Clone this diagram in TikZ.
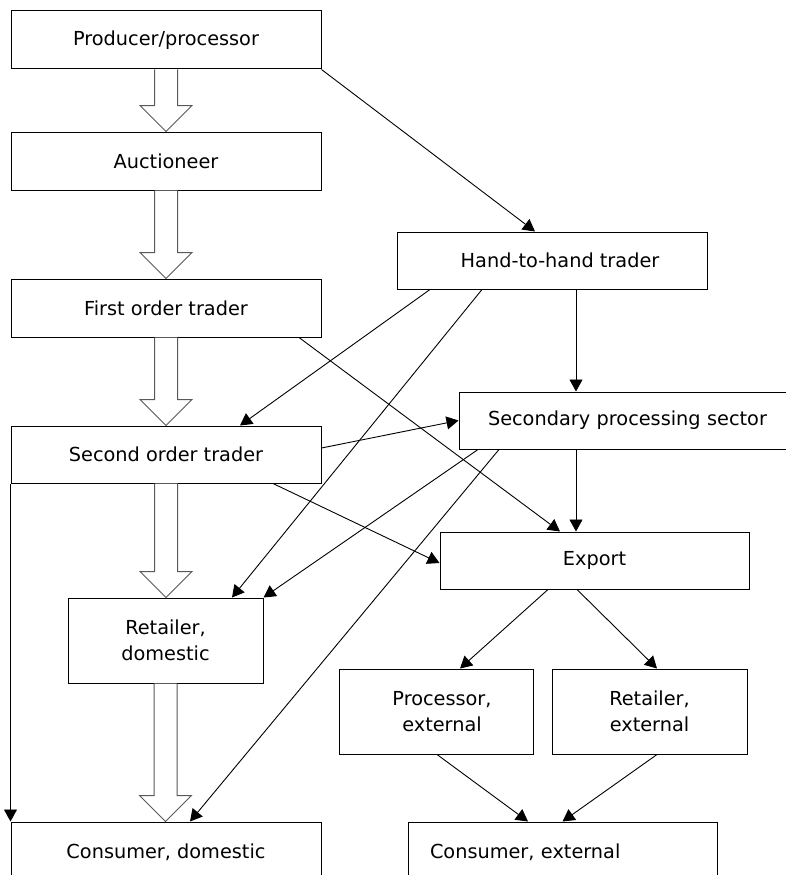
\documentclass[tikz,border=0pt]{standalone}
\usepackage{fontspec}
\setmainfont{DejaVu Sans}
\usetikzlibrary{arrows.meta,calc}
\newcommand\blockarr[2]{\draw[blk] let \p1=(#1.south), \p2=(#2.north) in
  (\x1-11.5pt,\y1) -- (\x1-11.5pt,\y2+26pt) -- (\x1-26pt,\y2+26pt) -- (\x1,\y2)
  -- (\x1+26pt,\y2+26pt) -- (\x1+11.5pt,\y2+26pt) -- (\x1+11.5pt,\y1);}
\begin{document}
\begin{tikzpicture}[x=1pt,y=-1pt,
  box/.style={draw=black, line width=1pt, fill=white, inner sep=0pt, align=center,
    font=\fontsize{19.3}{26}\selectfont},
  link/.style={draw=black, line width=0.9pt, -{Triangle[length=12pt,width=13pt]}},
  blk/.style={draw=black!65, line width=1pt, fill=white}]
\useasboundingbox (0,0) rectangle (786,875);
\clip (0,0) rectangle (786,875);
% boxes
\node[box, minimum width=310pt, minimum height=58pt] (prod) at (166,40) {Producer/processor};
\node[box, minimum width=310pt, minimum height=58pt] (auct) at (166,161) {Auctioneer};
\node[box, minimum width=310pt, minimum height=58pt] (first) at (166,308) {First order trader};
\node[box, minimum width=310pt, minimum height=57pt] (second) at (166,454.5) {Second order trader};
\node[box, minimum width=195pt, minimum height=85pt] (retd) at (165.5,640.5) {Retailer,\\domestic};
\node[box, minimum width=310pt, minimum height=60pt] (consd) at (166,852) {Consumer, domestic};
\node[box, minimum width=310pt, minimum height=57pt] (hand) at (552,260.5) {\hspace*{16pt}Hand-to-hand trader};
\node[box, minimum height=57pt, text width=282pt, inner xsep=29pt, align=left] (sec) at (629,420.5) {Secondary processing sector};
\node[box, minimum width=309pt, minimum height=57pt] (exp) at (594.5,560.5) {Export};
\node[box, minimum width=194pt, minimum height=85pt] (proce) at (436,711.5) {\hspace*{12pt}Processor,\\\hspace*{12pt}external};
\node[box, minimum width=195pt, minimum height=85pt] (rete) at (649.5,711.5) {Retailer,\\external};
\node[box, minimum height=60pt, text width=265pt, inner xsep=22pt, align=left] (conse) at (562.5,852) {Consumer, external};
% block arrows
\blockarr{prod}{auct}
\blockarr{auct}{first}
\blockarr{first}{second}
\blockarr{second}{retd}
\blockarr{retd}{consd}
% connectors
\draw[link] (prod.south east) -- ([xshift=-17pt]hand.north);
\draw[link] ([xshift=-122pt]hand.south) -- ([xshift=74pt]second.north);
\draw[link] ([xshift=-70pt]hand.south) -- ([xshift=66.5pt]retd.north);
\draw[link] ([xshift=24pt]hand.south) -- ([xshift=-53pt]sec.north);
\draw[link] ([xshift=133pt]first.south) -- ([xshift=-34.5pt]exp.north);
\draw[link] ([yshift=6.5pt]second.east) -- (sec.west);
\draw[link] ([xshift=-151pt]sec.south) -- (retd.north east);
\draw[link] ([xshift=-130pt]sec.south) -- ([xshift=24pt]consd.north);
\draw[link] ([xshift=107pt]second.south) -- ([yshift=-2.5pt]exp.west);
\draw[link] ([xshift=-53pt]sec.south) -- ([xshift=-18.5pt]exp.north);
\draw[link] ([xshift=-46.5pt]exp.south) -- ([xshift=24pt]proce.north);
\draw[link] ([xshift=-17.5pt]exp.south) -- ([xshift=7.5pt]rete.north);
\draw[link] ([xshift=1pt]proce.south) -- ([xshift=-34.5pt]conse.north);
\draw[link] ([xshift=7.5pt]rete.south) -- (conse.north);
\draw[link] (second.south west) -- (consd.north west);
\end{tikzpicture}
\end{document}
